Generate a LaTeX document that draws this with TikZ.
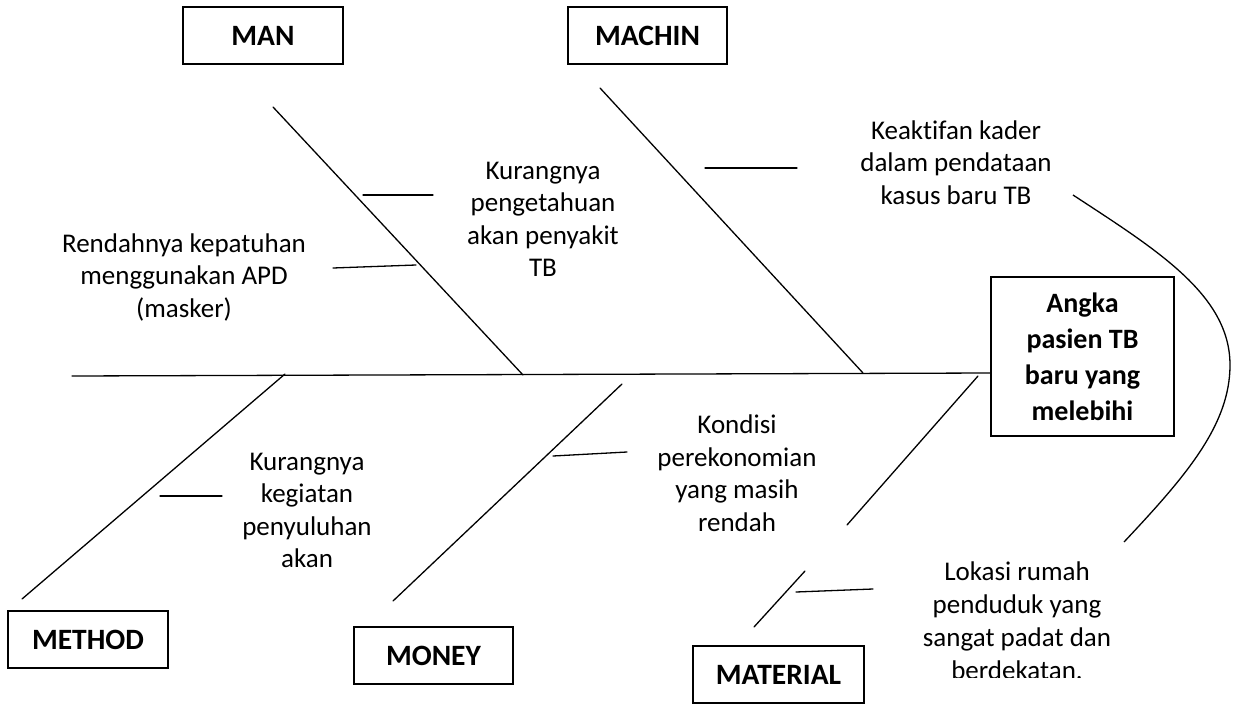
\documentclass[tikz,border=0pt]{standalone}
\usepackage{fontspec}
\setmainfont{Carlito}[Ligatures=NoCommon]
\begin{document}
\begin{tikzpicture}[x=1pt,y=-1pt,
  bone/.style={line width=1.3pt,line cap=round},
  catbox/.style={draw,line width=1.6pt,minimum height=57pt,inner sep=0pt,
    font=\fontsize{29.5}{34}\selectfont\bfseries},
  lbl/.style={align=center,inner sep=0pt,font=\fontsize{27}{32.5}\selectfont,
    execute at begin node=\strut,execute at end node=\strut},
  effbox/.style={draw,line width=1.6pt,minimum width=183pt,minimum height=159pt,
    inner sep=0pt,align=center,font=\fontsize{28}{36}\selectfont\bfseries}]
\useasboundingbox (0,0) rectangle (1235,704);
% category boxes
\node[catbox,minimum width=160pt] (man) at (263,35.5) {MAN};
\node[catbox,minimum width=159pt] (machin) at (647.5,35.5) {MACHIN};
\node[catbox,minimum width=160pt] (method) at (88,639.5) {METHOD};
\node[catbox,minimum width=159pt] (money) at (433.5,655.5) {MONEY};
\node[catbox,minimum width=171pt] (material) at (778.5,674.5) {MATERIAL};
% effect box
\node[effbox] (effect) at (1082.5,356.5) {Angka\\pasien TB\\baru yang\\melebihi};
% spine
\coordinate (tail) at (72,376);
\coordinate (head) at (991,373);
\draw[bone] (tail) -- (head);
% main bones
\coordinate (manA) at (273,107);   \coordinate (manB) at (523,375);
\coordinate (macA) at (600,88);    \coordinate (macB) at (863,373);
\coordinate (metA) at (22,599);    \coordinate (metB) at (285,374);
\coordinate (monA) at (393,601);   \coordinate (monB) at (622,384);
\coordinate (matA) at (847,525);   \coordinate (matB) at (978,376);
\coordinate (matC) at (754,627);   \coordinate (matD) at (805,571);
\draw[bone] (manA) -- (manB);
\draw[bone] (macA) -- (macB);
\draw[bone] (metA) -- (metB);
\draw[bone] (monA) -- (monB);
\draw[bone] (matA) -- (matB);
\draw[bone] (matC) -- (matD);
% sub branches
\coordinate (s1a) at (363,195); \coordinate (s1b) at (433,195);
\coordinate (s2a) at (333,268); \coordinate (s2b) at (416,265);
\coordinate (s3a) at (705,168); \coordinate (s3b) at (797,168);
\coordinate (s4a) at (160,496); \coordinate (s4b) at (222,496);
\coordinate (s5a) at (553,456); \coordinate (s5b) at (627,452);
\coordinate (s6a) at (796,592); \coordinate (s6b) at (873,589);
\draw[bone] (s1a) -- (s1b);
\draw[bone] (s2a) -- (s2b);
\draw[bone] (s3a) -- (s3b);
\draw[bone] (s4a) -- (s4b);
\draw[bone] (s5a) -- (s5b);
\draw[bone] (s6a) -- (s6b);
% curve
\coordinate (cA) at (1073,195);
\coordinate (cM) at (1230,365);
\coordinate (cB) at (1124,542);
\draw[line width=1.3pt] (cA) .. controls (1157,250) and (1230,295) .. (cM)
  .. controls (1230,425) and (1186,476) .. (cB);
% labels
\node[lbl] (t1) at (543,224) {Kurangnya\\pengetahuan\\akan penyakit\\TB};
\node[lbl] (t2) at (184,280) {Rendahnya kepatuhan\\menggunakan APD\\(masker)};
\node[lbl] (t3) at (956,167) {Keaktifan kader\\dalam pendataan\\kasus baru TB};
\node[lbl] (t4) at (307,515) {Kurangnya\\kegiatan\\penyuluhan\\akan};
\node[lbl] (t5) at (737,478) {Kondisi\\perekonomian\\yang masih\\rendah};
\begin{scope}
\clip (880,540) rectangle (1160,677);
\node[lbl,font=\fontsize{27}{33}\selectfont] (t6) at (1017,626) {Lokasi rumah\\penduduk yang\\sangat padat dan\\berdekatan.};
\end{scope}
\end{tikzpicture}
\end{document}
